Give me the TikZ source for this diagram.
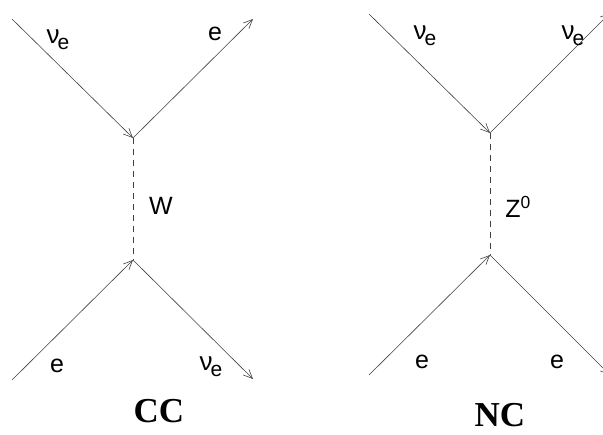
\documentclass[tikz,border=0pt]{standalone}
\usepackage{fontspec}
\setmainfont{Liberation Sans}
\newfontfamily\timesfont{Liberation Serif}
\usetikzlibrary{arrows.meta}
\newcommand{\nue}{{\fontsize{26}{26}\selectfont ν}\kern-2pt\raisebox{-6pt}{\fontsize{21}{21}\selectfont e}}
\tikzset{
  fermion/.style={draw=black!75, line width=0.6pt, -{Straight Barb[length=9pt,width=8pt,line width=0.6pt]}},
  boson/.style={draw=black!75, line width=0.6pt, dash pattern=on 6pt off 5pt},
  lbl/.style={font=\fontsize{25}{25}\selectfont, inner sep=0pt},
  title/.style={font=\timesfont\bfseries\fontsize{35}{35}\selectfont, inner sep=0pt}
}
\begin{document}
\begin{tikzpicture}[x=1pt,y=-1pt]
\useasboundingbox (0,0) rectangle (603,435);
% CC diagram
\coordinate (ccA) at (12,19);
\coordinate (ccV1) at (133,138);
\coordinate (ccB) at (253,19);
\coordinate (ccV2) at (133,260);
\coordinate (ccC) at (12,380);
\coordinate (ccD) at (253,379);
\draw[fermion] (ccA) -- (ccV1);
\draw[fermion] (ccV1) -- (ccB);
\draw[boson] (ccV1) -- (ccV2);
\draw[fermion] (ccC) -- (ccV2);
\draw[fermion] (ccV2) -- (ccD);
\node[lbl] (l1) at (58,40) {\nue};
\node[lbl] (l2) at (215,34) {e};
\node[lbl] (l3) at (161,206) {W};
\node[lbl] (l4) at (57,366) {e};
\node[lbl] (l5) at (211,367) {\nue};
\node[title] (t1) at (159,411) {CC};
% NC diagram
\coordinate (ncA) at (369,14);
\coordinate (ncV1) at (490,133);
\coordinate (ncB) at (610,13);
\coordinate (ncV2) at (490,255);
\coordinate (ncC) at (369,375);
\coordinate (ncD) at (610,375);
\draw[fermion] (ncA) -- (ncV1);
\draw[fermion] (ncV1) -- (ncB);
\draw[boson] (ncV1) -- (ncV2);
\draw[fermion] (ncC) -- (ncV2);
\draw[fermion] (ncV2) -- (ncD);
\node[lbl] (m1) at (425,36) {\nue};
\node[lbl] (m2) at (573,36) {\nue};
\node[lbl] (m3) at (518,207) {Z\textsuperscript{0}};
\node[lbl] (m4) at (422,362) {e};
\node[lbl] (m5) at (557,362) {e};
\node[title] (t2) at (500,415) {NC};
\end{tikzpicture}
\end{document}
